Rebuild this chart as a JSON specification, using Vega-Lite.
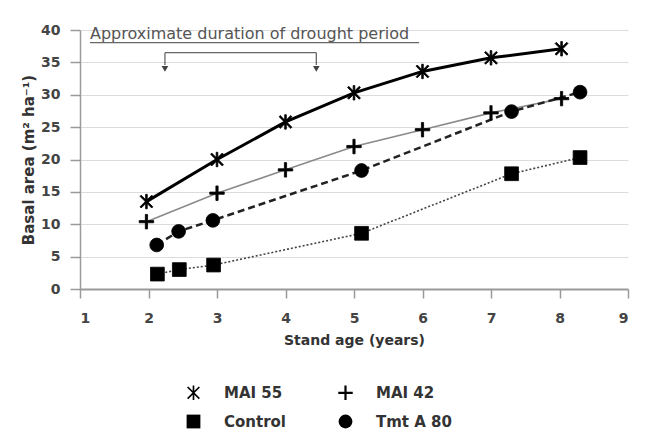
{
  "$schema": "https://vega.github.io/schema/vega-lite/v6.json",
  "width": 548,
  "height": 259,
  "autosize": {"type": "none"},
  "padding": {"left": 80, "top": 30, "right": 25, "bottom": 145},
  "background": "white",
  "config": {
    "view": {"stroke": null},
    "font": "DejaVu Sans"
  },
  "datasets": {
    "series": [
      {"series": "MAI 55", "age": 1.97, "ba": 13.5},
      {"series": "MAI 55", "age": 3.0, "ba": 20.0},
      {"series": "MAI 55", "age": 4.0, "ba": 25.8},
      {"series": "MAI 55", "age": 5.0, "ba": 30.3},
      {"series": "MAI 55", "age": 6.0, "ba": 33.6},
      {"series": "MAI 55", "age": 7.0, "ba": 35.7},
      {"series": "MAI 55", "age": 8.03, "ba": 37.1},
      {"series": "MAI 42", "age": 1.97, "ba": 10.4},
      {"series": "MAI 42", "age": 3.0, "ba": 14.8},
      {"series": "MAI 42", "age": 4.0, "ba": 18.4},
      {"series": "MAI 42", "age": 5.0, "ba": 22.0},
      {"series": "MAI 42", "age": 6.0, "ba": 24.6},
      {"series": "MAI 42", "age": 7.0, "ba": 27.2},
      {"series": "MAI 42", "age": 8.03, "ba": 29.4},
      {"series": "Tmt A 80", "age": 2.12, "ba": 6.8},
      {"series": "Tmt A 80", "age": 2.44, "ba": 8.9},
      {"series": "Tmt A 80", "age": 2.94, "ba": 10.6},
      {"series": "Tmt A 80", "age": 5.11, "ba": 18.3},
      {"series": "Tmt A 80", "age": 7.3, "ba": 27.4},
      {"series": "Tmt A 80", "age": 8.3, "ba": 30.4},
      {"series": "Control", "age": 2.13, "ba": 2.3},
      {"series": "Control", "age": 2.45, "ba": 3.0},
      {"series": "Control", "age": 2.95, "ba": 3.7},
      {"series": "Control", "age": 5.11, "ba": 8.6},
      {"series": "Control", "age": 7.3, "ba": 17.8},
      {"series": "Control", "age": 8.3, "ba": 20.3}
    ],
    "bracket": [
      {"age": 2.24, "ba": 36.5, "age2": 4.45, "ba2": 36.5},
      {"age": 2.24, "ba": 36.5, "age2": 2.24, "ba2": 34.6},
      {"age": 4.45, "ba": 36.5, "age2": 4.45, "ba2": 34.6}
    ],
    "arrows": [
      {"age": 2.24, "ba": 34.0},
      {"age": 4.45, "ba": 34.0}
    ],
    "note": [
      {"age": 1.146, "ba": 38.6, "label": "Approximate duration of drought period"}
    ],
    "underline": [
      {"age": 1.146, "age2": 5.95, "ba": 38.05}
    ]
  },
  "encoding": {
    "x": {"field": "age", "type": "quantitative", "scale": {"domain": [1, 9], "nice": false},
      "axis": {"title": "Stand age (years)", "values": [1,2,3,4,5,6,7,8,9], "tickCount": 20, "format": "d", "labelOverlap": false, "grid": false,
        "domainColor": "#9a9a9a", "domainWidth": 2, "tickColor": "#9a9a9a", "tickWidth": 1.5, "tickSize": 9,
        "labelPadding": 13, "labelFont": "DejaVu Sans", "labelFontSize": 14, "labelFontWeight": "bold", "labelColor": "#444",
        "titleFont": "DejaVu Sans", "titleFontSize": 14, "titleFontWeight": "bold", "titleColor": "#333", "titlePadding": 8}},
    "y": {"field": "ba", "type": "quantitative", "scale": {"domain": [0, 40], "nice": false},
      "axis": {"title": "Basal area (m² ha⁻¹)", "values": [0,5,10,15,20,25,30,35,40], "tickCount": 20, "format": "d", "labelOverlap": false, "grid": true,
        "gridColor": "#dcdcdc", "gridWidth": 1.2, "domainColor": "#9a9a9a", "domainWidth": 1.5,
        "tickColor": "#9a9a9a", "tickWidth": 1.5, "tickSize": 10, "labelPadding": 10,
        "labelFont": "DejaVu Sans", "labelFontSize": 14, "labelFontWeight": "bold", "labelColor": "#444",
        "titleFont": "DejaVu Sans", "titleFontSize": 15, "titleFontWeight": "bold", "titleColor": "#333", "titlePadding": 4}}
  },
  "layer": [
    {
      "data": {"name": "series"},
      "transform": [{"filter": "datum.series === 'MAI 55'"}],
      "mark": {"type": "line", "color": "black", "strokeWidth": 3}
    },
    {
      "data": {"name": "series"},
      "transform": [{"filter": "datum.series === 'MAI 42'"}],
      "mark": {"type": "line", "color": "#8a8a8a", "strokeWidth": 1.6}
    },
    {
      "data": {"name": "series"},
      "transform": [{"filter": "datum.series === 'Tmt A 80'"}],
      "mark": {"type": "line", "color": "#222", "strokeWidth": 2.5, "strokeDash": [7, 4]}
    },
    {
      "data": {"name": "series"},
      "transform": [{"filter": "datum.series === 'Control'"}],
      "mark": {"type": "line", "color": "#444", "strokeWidth": 1.6, "strokeDash": [2, 2]}
    },
    {
      "data": {"name": "series"},
      "mark": {"type": "point", "filled": true, "color": "black", "stroke": "black", "strokeWidth": 0.8, "size": 190, "opacity": 1},
      "encoding": {
        "shape": {"field": "series", "type": "nominal",
          "scale": {"domain": ["MAI 55", "MAI 42", "Control", "Tmt A 80"],
            "range": [
              "M-0.12,-1.05L0.12,-1.05L0.12,1.05L-0.12,1.05ZM-0.765,-0.935L0.935,0.765L0.765,0.935L-0.935,-0.765ZM-0.765,0.935L-0.935,0.765L0.765,-0.935L0.935,-0.765Z",
              "M-1.05,-0.16L-0.16,-0.16L-0.16,-1.05L0.16,-1.05L0.16,-0.16L1.05,-0.16L1.05,0.16L0.16,0.16L0.16,1.05L-0.16,1.05L-0.16,0.16L-1.05,0.16Z",
              "square", "circle"]},
          "legend": {"title": null, "orient": "none", "direction": "horizontal", "legendX": 106, "legendY": 355, "columns": 2,
            "columnPadding": 49, "rowPadding": 11, "symbolSize": 190, "symbolStrokeWidth": 0.8,
            "symbolStrokeColor": "black", "symbolFillColor": "black", "symbolOpacity": 1,
            "labelFont": "DejaVu Sans", "labelFontSize": 15, "labelFontWeight": "bold", "labelColor": "#333", "labelOffset": 23}}
      }
    },
    {
      "data": {"name": "bracket"},
      "mark": {"type": "rule", "color": "#666", "strokeWidth": 1.3},
      "encoding": {
        "x2": {"field": "age2"},
        "y2": {"field": "ba2"}
      }
    },
    {
      "data": {"name": "arrows"},
      "mark": {"type": "point", "shape": "triangle-down", "filled": true, "color": "#444", "size": 45, "opacity": 1}
    },
    {
      "data": {"name": "note"},
      "mark": {"type": "text", "align": "left", "baseline": "alphabetic", "font": "DejaVu Sans", "fontSize": 16, "color": "#555"},
      "encoding": {
        "text": {"field": "label"}
      }
    },
    {
      "data": {"name": "underline"},
      "mark": {"type": "rule", "color": "#666", "strokeWidth": 1.2},
      "encoding": {
        "x2": {"field": "age2"}
      }
    }
  ]
}
